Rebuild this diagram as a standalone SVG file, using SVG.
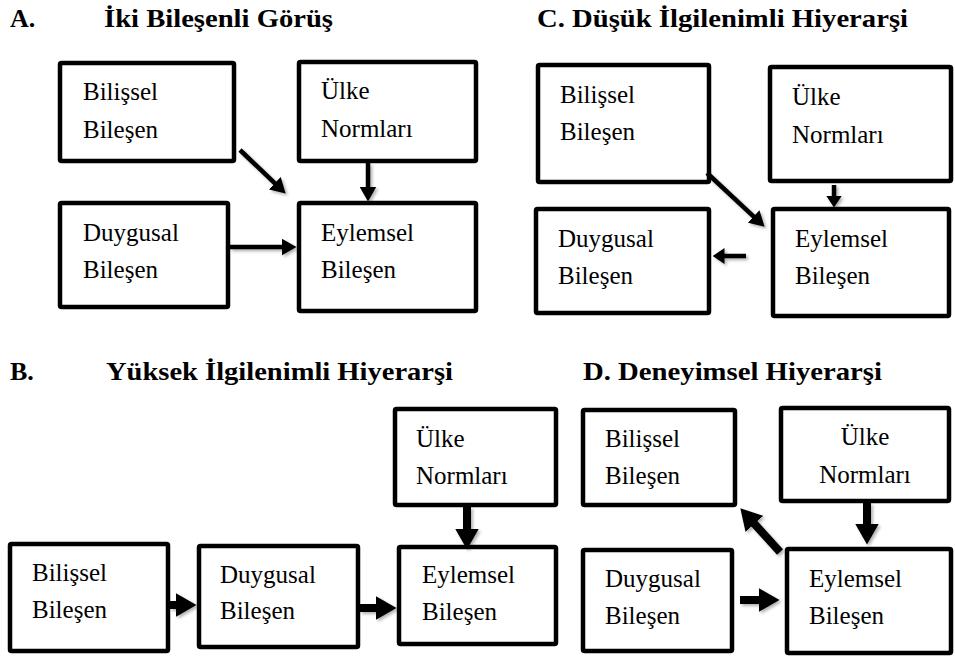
<svg xmlns="http://www.w3.org/2000/svg" width="955" height="658" viewBox="0 0 955 658">
<defs>
<style>
.box{fill:#fff;stroke:#000;stroke-width:4.5;}
.t{font-family:"Liberation Serif","Times New Roman",serif;font-size:25px;fill:#000;}
.h{font-family:"Liberation Serif","Times New Roman",serif;font-size:26px;font-weight:bold;fill:#000;}
.a1{fill:none;stroke:#000;stroke-width:4.5;marker-end:url(#mThin);}
.a2{fill:none;stroke:#000;stroke-width:4.5;marker-end:url(#mSmall);}
.a3{fill:none;stroke:#000;stroke-width:8;marker-end:url(#mThick);}
</style>
<marker id="mThin" markerUnits="userSpaceOnUse" viewBox="0 0 15 17" markerWidth="15" markerHeight="17" refX="0.5" refY="8.5" orient="auto"><path d="M0,0 L15,8.5 L0,17 z" fill="#000"/></marker>
<marker id="mSmall" markerUnits="userSpaceOnUse" viewBox="0 0 12 16" markerWidth="12" markerHeight="16" refX="0.5" refY="8" orient="auto"><path d="M0,0 L12,8 L0,16 z" fill="#000"/></marker>
<marker id="mThick" markerUnits="userSpaceOnUse" viewBox="0 0 21 24" markerWidth="21" markerHeight="24" refX="0.5" refY="12" orient="auto"><path d="M0,0 L21,12 L0,24 z" fill="#000"/></marker>
<filter id="sh" x="-20%" y="-20%" width="140%" height="140%"><feDropShadow dx="2" dy="2" stdDeviation="1.5" flood-color="#000" flood-opacity="0.3"/></filter>
</defs>
<rect width="955" height="658" fill="#fff"/>

<g id="titles">
<text class="h" x="10" y="27">A.</text>
<text class="h" x="104" y="27" textLength="229" lengthAdjust="spacingAndGlyphs">İki Bileşenli Görüş</text>
<text class="h" x="537" y="27" textLength="371" lengthAdjust="spacingAndGlyphs">C. Düşük İlgilenimli Hiyerarşi</text>
<text class="h" x="10" y="380">B.</text>
<text class="h" x="106" y="380" textLength="347" lengthAdjust="spacingAndGlyphs">Yüksek İlgilenimli Hiyerarşi</text>
<text class="h" x="583" y="380" textLength="299" lengthAdjust="spacingAndGlyphs">D. Deneyimsel Hiyerarşi</text>
</g>

<!-- A -->
<g id="A-bilissel"><rect class="box" x="60" y="63" width="174" height="98" rx="1.5"/><text class="t" x="83" y="100">Bilişsel</text><text class="t" x="83" y="138">Bileşen</text></g>
<g id="A-ulke"><rect class="box" x="299" y="62" width="177" height="99" rx="1.5"/><text class="t" x="321" y="99">Ülke</text><text class="t" x="321" y="137">Normları</text></g>
<g id="A-duygusal"><rect class="box" x="60" y="203" width="168" height="104" rx="1.5"/><text class="t" x="83" y="241">Duygusal</text><text class="t" x="83" y="278">Bileşen</text></g>
<g id="A-eylemsel"><rect class="box" x="299" y="203" width="177" height="108" rx="1.5"/><text class="t" x="321" y="241">Eylemsel</text><text class="t" x="321" y="278">Bileşen</text></g>

<!-- C -->
<g id="C-bilissel"><rect class="box" x="538" y="65" width="171" height="117" rx="1.5"/><text class="t" x="560" y="103">Bilişsel</text><text class="t" x="560" y="140">Bileşen</text></g>
<g id="C-ulke"><rect class="box" x="770" y="67" width="181" height="114" rx="1.5"/><text class="t" x="792" y="105">Ülke</text><text class="t" x="792" y="143">Normları</text></g>
<g id="C-duygusal"><rect class="box" x="536" y="209" width="173" height="104" rx="1.5"/><text class="t" x="558" y="247">Duygusal</text><text class="t" x="558" y="284">Bileşen</text></g>
<g id="C-eylemsel"><rect class="box" x="773" y="209" width="176" height="107" rx="1.5"/><text class="t" x="795" y="247">Eylemsel</text><text class="t" x="795" y="284">Bileşen</text></g>

<!-- B -->
<g id="B-bilissel"><rect class="box" x="10" y="544" width="158" height="107" rx="1.5"/><text class="t" x="32" y="581">Bilişsel</text><text class="t" x="32" y="618">Bileşen</text></g>
<g id="B-duygusal"><rect class="box" x="199" y="546" width="159" height="101" rx="1.5"/><text class="t" x="220" y="583">Duygusal</text><text class="t" x="220" y="619">Bileşen</text></g>
<g id="B-ulke"><rect class="box" x="395" y="409" width="161" height="96" rx="1.5"/><text class="t" x="416" y="447">Ülke</text><text class="t" x="416" y="484">Normları</text></g>
<g id="B-eylemsel"><rect class="box" x="399" y="547" width="157" height="97" rx="1.5"/><text class="t" x="422" y="583">Eylemsel</text><text class="t" x="422" y="620">Bileşen</text></g>

<!-- D -->
<g id="D-bilissel"><rect class="box" x="583" y="410" width="152" height="95" rx="1.5"/><text class="t" x="605" y="447">Bilişsel</text><text class="t" x="605" y="484">Bileşen</text></g>
<g id="D-ulke"><rect class="box" x="781" y="408" width="168" height="93" rx="1.5"/><text class="t" x="865" y="445" text-anchor="middle">Ülke</text><text class="t" x="865" y="483" text-anchor="middle">Normları</text></g>
<g id="D-duygusal"><rect class="box" x="583" y="550" width="149" height="101" rx="1.5"/><text class="t" x="605" y="587">Duygusal</text><text class="t" x="605" y="624">Bileşen</text></g>
<g id="D-eylemsel"><rect class="box" x="787" y="549" width="164" height="104" rx="1.5"/><text class="t" x="809" y="587">Eylemsel</text><text class="t" x="809" y="624">Bileşen</text></g>

<g id="connectors" filter="url(#sh)">
<path class="a1" d="M240,150 L275.2,183.6"/>
<path class="a1" d="M368,163 L368,187"/>
<path class="a1" d="M230,247 L282,247"/>
<path class="a1" d="M707,173 L754,216.8"/>
<path class="a2" d="M834,185 L834,196"/>
<path class="a2" d="M746,256 L724,256"/>
<path class="a3" d="M170,605 L176,605"/>
<path class="a3" d="M360,608 L376,608"/>
<path class="a3" d="M467,507 L467,529"/>
<path class="a3" d="M780,552 L754.1,523.5"/>
<path class="a3" d="M867,503 L867,524"/>
<path class="a3" d="M740,600 L759,600"/>
</g>
</svg>
